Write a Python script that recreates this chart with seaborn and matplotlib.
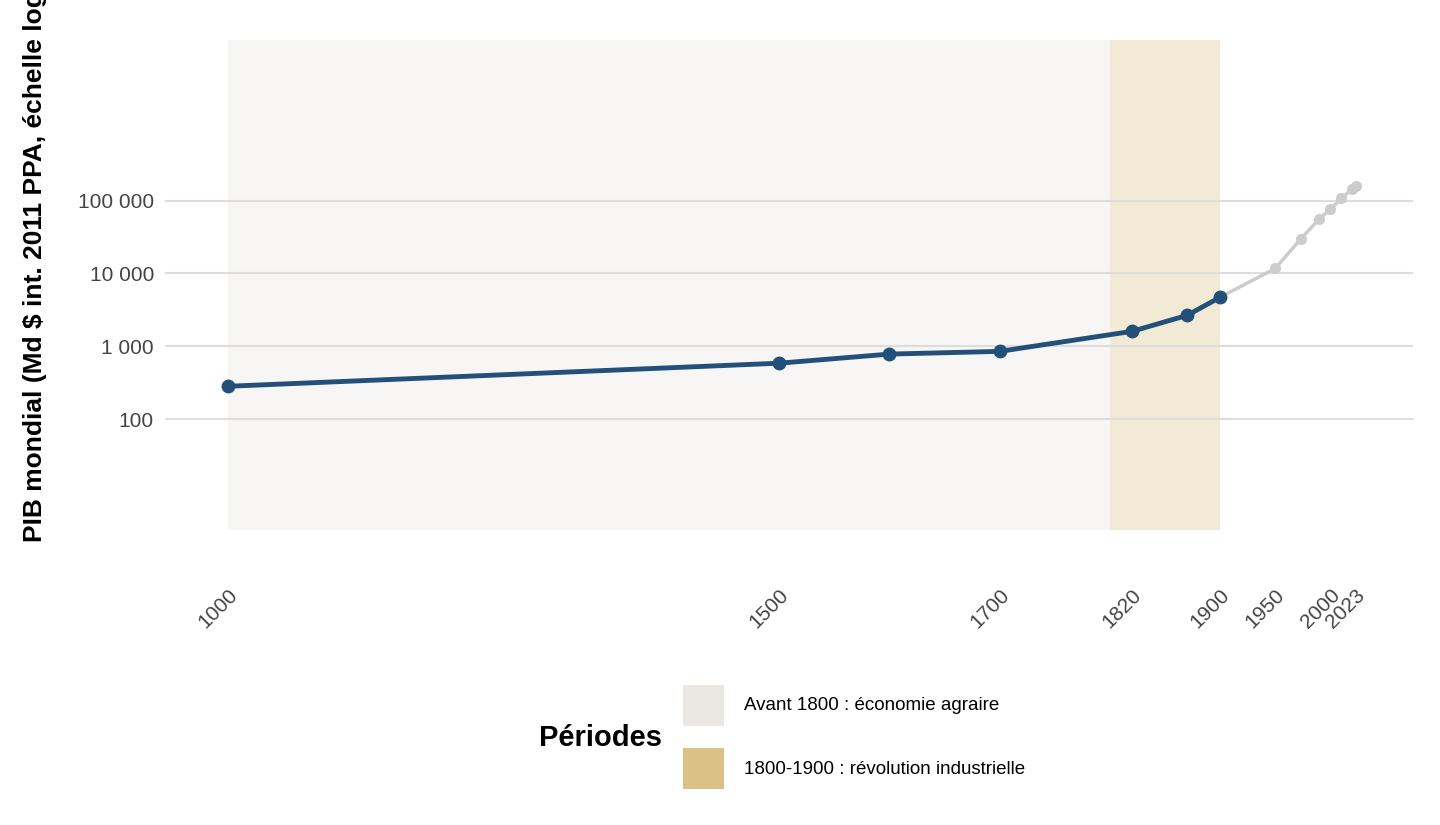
import matplotlib
matplotlib.use("Agg")
import matplotlib.pyplot as plt
import seaborn as sns
import pandas as pd
from matplotlib.patches import Rectangle

sns.set_theme(style="white")
plt.rcParams['font.family'] = ['Liberation Sans', 'DejaVu Sans']

years_main = [1000, 1500, 1600, 1700, 1820, 1870, 1900]
gdp_main = [282, 585, 780, 850, 1600, 2650, 4700]
years_late = [1900, 1950, 1973, 1990, 2000, 2010, 2020, 2023]
gdp_late = [4700, 11700, 29500, 56000, 76000, 107000, 145000, 160000]
xticks = [1000, 1500, 1700, 1820, 1900, 1950, 2000, 2023]
yticks = [100, 1000, 10000, 100000]
ylabels = ["100", "1 000", "10 000", "100 000"]
periods = ["Avant 1800 : économie agraire", "1800-1900 : révolution industrielle"]
period_spans = [(1000, 1800), (1800, 1900)]
period_fill = ["#f7f6f4", "#f3ead6"]
period_legend = ["#ebe7e2", "#dbc185"]

W, H = 1440, 825
fig = plt.figure(figsize=(14.4, 8.25), dpi=100)
ax = fig.add_axes([165/W, (H-530)/H, (1413-165)/W, 490/H])
ax.set_yscale("log")
ax.set_ylim(3, 1.6e7)
ax.set_xlim(1000 - 63/1.1, 2075)
for (a, b), c in zip(period_spans, period_fill):
    ax.axvspan(a, b, color=c, zorder=0, lw=0)
for y in yticks:
    ax.axhline(y, color="#dddddd", lw=1.5, zorder=1)

df_l = pd.DataFrame({"year": years_late, "gdp": gdp_late})
df_m = pd.DataFrame({"year": years_main, "gdp": gdp_main})
sns.lineplot(data=df_l, x="year", y="gdp", ax=ax, color="#cccccc", lw=2.5,
             marker="o", markersize=8, markeredgewidth=0, zorder=2)
sns.lineplot(data=df_m, x="year", y="gdp", ax=ax, color="#22507a", lw=3.5,
             marker="o", markersize=10, markeredgewidth=0, zorder=3)

ax.set_xticks(xticks)
ax.set_xticklabels([str(t) for t in xticks], rotation=45, ha="right",
                   rotation_mode="anchor", fontsize=15, color="#444444")
ax.tick_params(axis="x", pad=40, length=0)
ax.set_yticks(yticks)
ax.set_yticklabels(ylabels, fontsize=15, color="#444444")
ax.minorticks_off()
ax.tick_params(axis="y", length=0, pad=8)
for s in ax.spines.values():
    s.set_visible(False)
ax.set_xlabel("")
ax.set_ylabel("")
fig.text(35/W, 1 - 262/H, "PIB mondial (Md $ int. 2011 PPA, échelle log)",
         rotation=90, ha="center", va="center", fontsize=19,
         fontweight="bold", color="black")

# legend
fig.text(662/W, 1 - 738/H, "Périodes", ha="right", va="center",
         fontsize=21, fontweight="bold", color="black")
for i, (lab, c) in enumerate(zip(periods, period_legend)):
    top = 685 + i * 63
    fig.patches.append(Rectangle((683/W, 1 - (top + 41)/H), 41/W, 41/H,
                                 transform=fig.transFigure, facecolor=c,
                                 edgecolor="none"))
    fig.text(744/W, 1 - (top + 21)/H, lab, ha="left", va="center",
             fontsize=13.5, color="black")

fig.savefig("out.png", dpi=100)
